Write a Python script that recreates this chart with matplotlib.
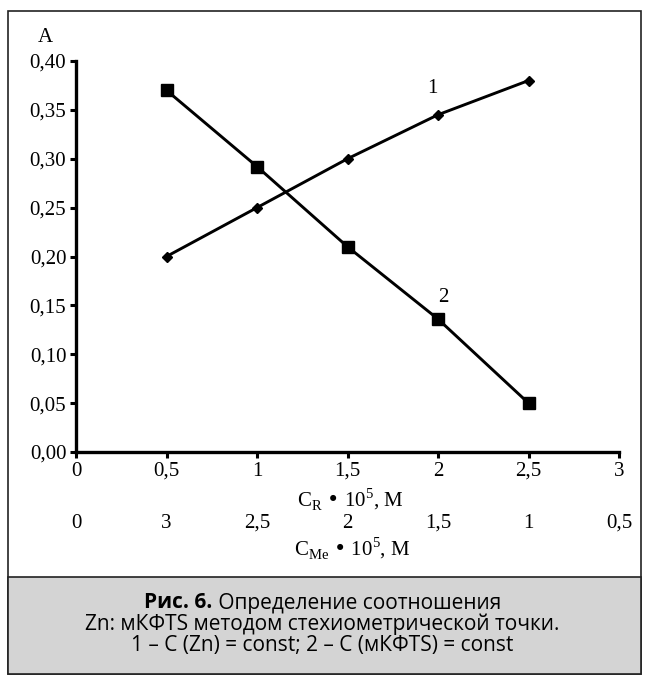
import matplotlib
matplotlib.use("Agg")
import matplotlib.pyplot as plt
from matplotlib.patches import Rectangle

x_vals = [0.5, 1.0, 1.5, 2.0, 2.5]
series1 = [0.20, 0.25, 0.30, 0.345, 0.38]
series2 = [0.37, 0.292, 0.21, 0.136, 0.05]
x_ticks = [0, 0.5, 1, 1.5, 2, 2.5, 3]
x_labels_R = ["0", "0,5", "1", "1,5", "2", "2,5", "3"]
x_labels_Me = ["0", "3", "2,5", "2", "1,5", "1", "0,5"]
y_ticks = [0.0, 0.05, 0.10, 0.15, 0.20, 0.25, 0.30, 0.35, 0.40]
y_labels = ["0,00", "0,05", "0,10", "0,15", "0,20", "0,25", "0,30", "0,35", "0,40"]

W, H = 645, 680
fig = plt.figure(figsize=(W/100, H/100), dpi=100)
serif = "Liberation Serif"
sans = "Open Sans"
fs = 15

def fx(px): return px / W
def fy(py): return 1 - py / H

# outer frame and caption box
fig.patches.append(Rectangle((fx(8), fy(674)), fx(641) - fx(8), fy(11) - fy(674),
                             transform=fig.transFigure, fill=False, edgecolor="#222222", lw=1.2))
fig.patches.append(Rectangle((fx(8), fy(674)), fx(641) - fx(8), fy(577) - fy(674),
                             transform=fig.transFigure, facecolor="#d4d4d4", edgecolor="#222222", lw=1.2))

ax = fig.add_axes([fx(76), fy(452), fx(619) - fx(76), fy(61) - fy(452)])
ax.plot(x_vals, series1, color="black", lw=2.1, marker="D", markersize=5.5, clip_on=False)
ax.plot(x_vals, series2, color="black", lw=2.1, marker="s", markersize=8, clip_on=False)
ax.set_xlim(0, 3)
ax.set_ylim(0, 0.40)
for s in ["top", "right"]:
    ax.spines[s].set_visible(False)
for s in ["left", "bottom"]:
    ax.spines[s].set_linewidth(2.4)
ax.set_xticks(x_ticks)
ax.set_xticklabels(x_labels_R, fontfamily=serif, fontsize=fs)
ax.set_yticks(y_ticks)
ax.set_yticklabels(y_labels, fontfamily=serif, fontsize=fs)
ax.tick_params(axis="both", direction="out", length=4, width=2.2, pad=3)
ax.text(1.97, 0.372, "1", fontfamily=serif, fontsize=fs, ha="center", va="center")
ax.text(2.03, 0.158, "2", fontfamily=serif, fontsize=fs, ha="center", va="center")

for xv, lab in zip(x_ticks, x_labels_Me):
    ax.annotate(lab, xy=(xv, 0), xycoords=("data", "axes fraction"),
                xytext=(0, -71), textcoords="offset pixels", ha="center", va="center",
                fontfamily=serif, fontsize=fs)

fig.text(fx(350), fy(499), r"C$_{\mathregular{R}}$ • 10$^{\mathregular{5}}$, M",
         fontfamily=serif, fontsize=fs, ha="center", va="center")
fig.text(fx(352), fy(548), r"C$_{\mathregular{Me}}$ • 10$^{\mathregular{5}}$, M",
         fontfamily=serif, fontsize=fs, ha="center", va="center")
fig.text(fx(45), fy(38), "A", fontfamily=serif, fontsize=fs, ha="center", va="center")

# caption
cap_fs = 15
fig.canvas.draw()
r = fig.canvas.get_renderer()
t1 = fig.text(0, fy(603), "Рис. 6.", fontfamily=sans, fontweight="bold", fontsize=cap_fs, va="center")
t2 = fig.text(0, fy(603), " Определение соотношения", fontfamily=sans, fontsize=cap_fs, va="center")
w1 = t1.get_window_extent(r).width
w2 = t2.get_window_extent(r).width
start = (W - (w1 + w2)) / 2
t1.set_x(start / W)
t2.set_x((start + w1) / W)
fig.text(0.5, fy(624), "Zn: мКФТS методом стехиометрической точки.", fontfamily=sans,
         fontsize=cap_fs, ha="center", va="center")
fig.text(0.5, fy(646), "1 – С (Zn) = const; 2 – С (мКФТS) = const", fontfamily=sans,
         fontsize=cap_fs, ha="center", va="center")

fig.savefig("out.png", dpi=100)
